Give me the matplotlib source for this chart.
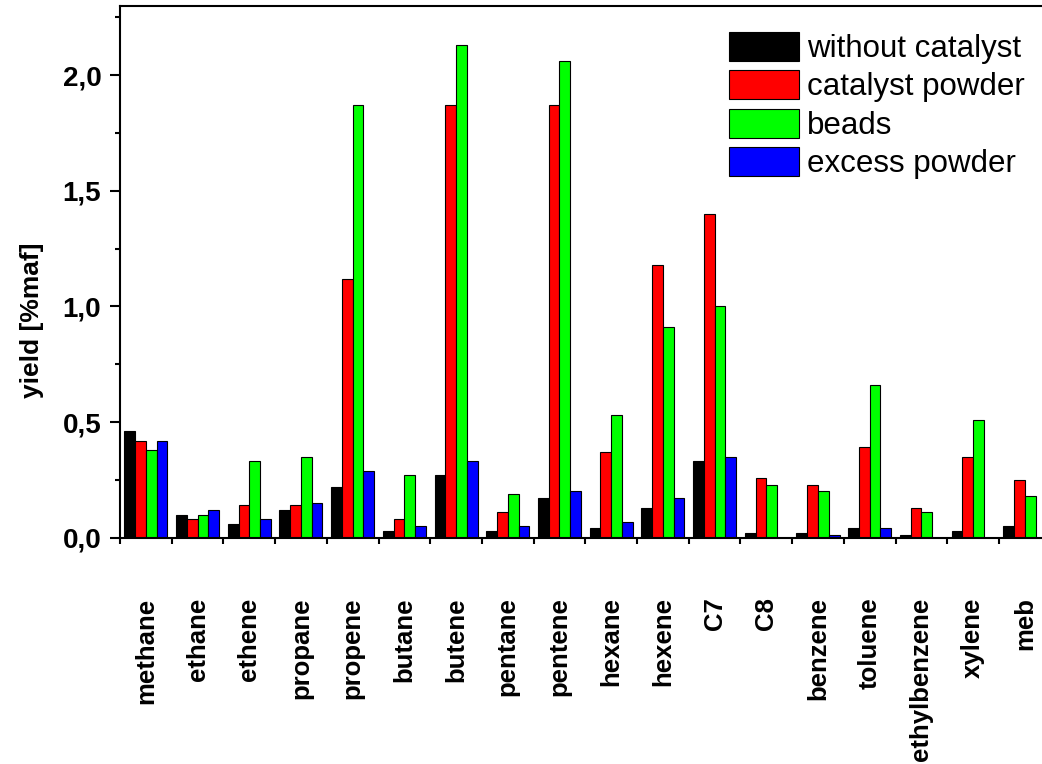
"""
Product yields of the light hydrocarbons and aromatics, grouped by compound,
for the four reactor configurations. Writes out.png.
"""

import matplotlib.pyplot as plt
import numpy as np
from matplotlib.ticker import FuncFormatter, MultipleLocator

plt.rcParams["font.family"] = ["Liberation Sans", "DejaVu Sans"]
plt.rcParams["font.weight"] = "bold"

compounds = [
    "methane", "ethane", "ethene", "propane", "propene", "butane",
    "butene", "pentane", "pentene", "hexane", "hexene", "C7", "C8",
    "benzene", "toluene", "ethylbenzene", "xylene", "meb",
]

# yield in %maf
without_catalyst = [0.46, 0.10, 0.06, 0.12, 0.22, 0.03, 0.27, 0.03, 0.17,
                    0.04, 0.13, 0.33, 0.02, 0.02, 0.04, 0.01, 0.03, 0.05]
catalyst_powder = [0.42, 0.08, 0.14, 0.14, 1.12, 0.08, 1.87, 0.11, 1.87,
                   0.37, 1.18, 1.40, 0.26, 0.23, 0.39, 0.13, 0.35, 0.25]
beads = [0.38, 0.10, 0.33, 0.35, 1.87, 0.27, 2.13, 0.19, 2.06,
         0.53, 0.91, 1.00, 0.23, 0.20, 0.66, 0.11, 0.51, 0.18]
excess_powder = [0.42, 0.12, 0.08, 0.15, 0.29, 0.05, 0.33, 0.05, 0.20,
                 0.07, 0.17, 0.35, 0.00, 0.01, 0.04, 0.00, 0.00, 0.00]

series_labels = ["without catalyst", "catalyst powder", "beads", "excess powder"]
series_colors = ["#000000", "#FF0000", "#00FF00", "#0000FF"]


def comma_decimal(value, _pos):
    return f"{value:.1f}".replace(".", ",")


fig = plt.figure(figsize=(10.42, 7.64), dpi=100)
# the last group runs off the right edge, as in the exported figure
ax = fig.add_axes([0.1152, 0.2962, 0.8931, 0.6963])

x = np.arange(len(compounds))
width = 0.208
series = [without_catalyst, catalyst_powder, beads, excess_powder]
for idx, (values, label, color) in enumerate(zip(series, series_labels, series_colors)):
    ax.bar(x + (idx - 1.5) * width, values, width=width, color=color,
           edgecolor="black", linewidth=0.8, label=label)

ax.set_xlim(-0.5, len(compounds) - 0.5)
ax.set_ylim(0, 2.3)

# group boundaries carry the tick marks, names sit on the group centres
ax.set_xticks(np.arange(len(compounds) + 1) - 0.5)
ax.set_xticklabels([])
ax.set_xticks(x, compounds, minor=True)
ax.tick_params(axis="x", which="major", direction="out", length=4, width=1.5)
ax.tick_params(axis="x", which="minor", length=0, pad=43, labelsize=18.5,
               labelrotation=90)

ax.yaxis.set_major_locator(MultipleLocator(0.5))
ax.yaxis.set_minor_locator(MultipleLocator(0.25))
ax.yaxis.set_major_formatter(FuncFormatter(comma_decimal))
ax.tick_params(axis="y", which="major", direction="out", length=7.5, width=1.5,
               labelsize=20, pad=6)
ax.tick_params(axis="y", which="minor", direction="out", length=3.75, width=1.5)

for spine in ax.spines.values():
    spine.set_linewidth(1.5)

ax.set_ylabel("yield [%maf]", fontsize=19, fontweight="bold")
ax.yaxis.set_label_coords(-0.082, 0.409)

ax.legend(
    loc="upper left",
    bbox_to_anchor=(0.6842, 0.9791),
    bbox_transform=fig.transFigure,
    frameon=False,
    borderpad=0,
    prop={"size": 22.5, "weight": "normal"},
    handlelength=2.25,
    handleheight=1.06,
    handletextpad=0.26,
    labelspacing=0.2,
)

fig.savefig("out.png", dpi=100)
plt.close(fig)
